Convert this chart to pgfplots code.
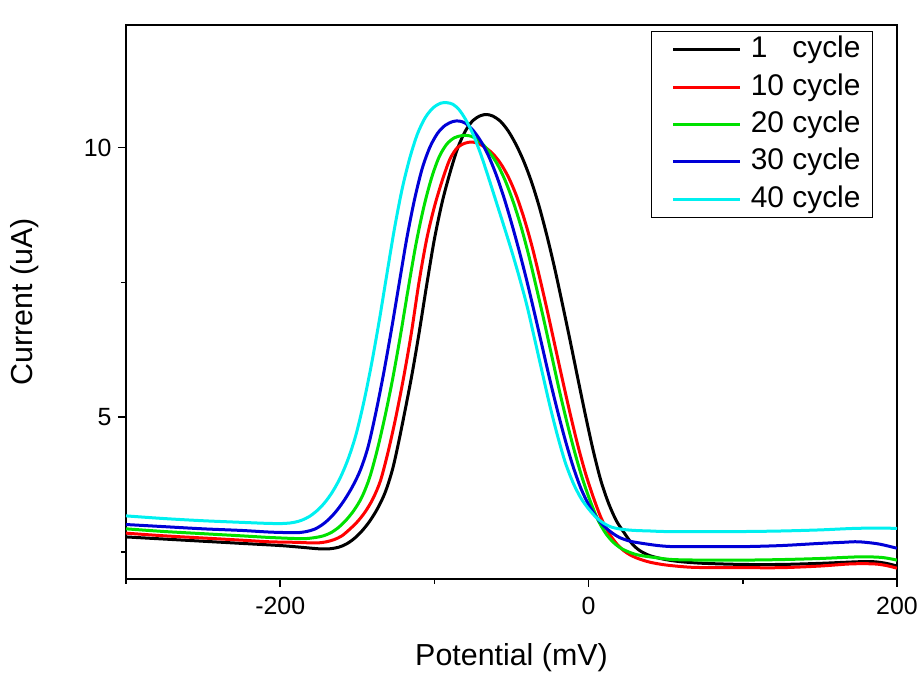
\documentclass[border=0pt]{standalone}
\usepackage{fontspec}
\setmainfont{Liberation Sans}
\usepackage{pgfplots}
\pgfplotsset{compat=1.18}

\definecolor{cRed}{RGB}{255,0,0}
\definecolor{cGreen}{RGB}{0,225,0}
\definecolor{cBlue}{RGB}{0,0,215}
\definecolor{cCyan}{RGB}{0,240,240}

\begin{document}
\begin{tikzpicture}
\begin{axis}[
  name=ax,
  scale only axis,
  width=771bp, height=554bp,
  xmin=-300, xmax=200,
  ymin=2, ymax=12.27,
  xtick={-200,0,200},
  minor xtick={-300,-100,100},
  ytick={5,10},
  minor ytick={2.5,7.5},
  tick pos=left,
  tick align=outside,
  major tick length=8bp,
  minor tick length=5bp,
  every tick/.style={line width=1.5bp, black},
  axis line style={line width=2.2bp},
  /pgf/number format/assume math mode=true,
  tick label style={font=\fontsize{25}{29}\selectfont},
  xticklabel style={yshift=-7bp},
  yticklabel style={xshift=-3bp},
  xlabel={Potential (mV)},
  ylabel={Current (uA)},
  label style={font=\fontsize{30.5}{34}\selectfont},
  xlabel style={at={(axis description cs:0.5,-0.1426)}, anchor=center},
  ylabel style={at={(axis description cs:-0.131,0.5)}, anchor=center},
  legend cell align=left,
  legend image code/.code={\path (0bp,0bp); \draw[#1] (9bp,0bp) -- (76bp,0bp);},
  legend style={
    at={(rel axis cs:1,1)}, anchor=north east,
    xshift=-24bp, yshift=-6.5bp,
    draw=black, line width=1bp,
    font=\fontsize{30}{34}\selectfont,
    row sep=7.3bp, column sep=8bp,
    inner xsep=11bp, inner ysep=3bp,
    nodes={inner sep=1bp, text height=22bp, text depth=6bp},
  },
  every axis plot/.append style={line width=3bp, smooth},
]
\addplot[black] coordinates {
(-300,2.78) (-275,2.74) (-250,2.70) (-225,2.66) (-200,2.62) (-187,2.59)
(-175,2.56) (-168,2.56) (-162,2.59) (-157,2.65) (-152,2.75) (-147,2.89)
(-142,3.07) (-137,3.30) (-132,3.60) (-127,4.05) (-122,4.70)
(-115,5.72) (-110,6.55) (-105,7.45) (-100,8.3) (-95,8.98) (-90,9.52)
(-85,9.98) (-80,10.3) (-75,10.5) (-70,10.59) (-66,10.61) (-62,10.58)
(-57,10.48) (-52,10.3) (-47,10.05) (-42,9.74) (-37,9.36) (-32,8.9)
(-27,8.36) (-22,7.76) (-17,7.1) (-12,6.42) (-7,5.72) (-2,5.03) (3,4.38)
(8,3.82) (13,3.4) (18,3.08) (23,2.86) (28,2.66) (33,2.53) (40,2.43)
(50,2.36) (60,2.32) (75,2.29) (100,2.27) (125,2.27) (150,2.29)
(175,2.32) (185,2.32) (193,2.29) (200,2.24)
};
\addlegendentry{1\phantom{0} cycle}
\addplot[cRed] coordinates {
(-300,2.85) (-275,2.80) (-250,2.76) (-225,2.72) (-207,2.69) (-190,2.68)
(-181,2.67) (-175,2.67) (-170,2.69) (-165,2.73) (-160,2.80) (-155,2.92)
(-150,3.06) (-145,3.24) (-140,3.48) (-135,3.82) (-130,4.36) (-125,5.0)
(-120,5.73) (-115,6.55) (-110,7.5) (-105,8.3) (-100,8.9) (-95,9.38)
(-90,9.78) (-85,10.0) (-80,10.08) (-76,10.10) (-72,10.08) (-67,10.0)
(-62,9.88) (-57,9.7) (-52,9.45) (-47,9.12) (-42,8.7) (-37,8.2) (-32,7.62)
(-27,7.0) (-22,6.35) (-17,5.7) (-12,5.07) (-7,4.48) (-2,3.96) (3,3.52)
(8,3.14) (13,2.86) (18,2.66) (23,2.52) (28,2.43) (33,2.37) (40,2.31)
(50,2.26) (65,2.22) (80,2.21) (100,2.21) (125,2.21) (150,2.24)
(170,2.28) (185,2.28) (193,2.25) (200,2.20)
};
\addlegendentry{10 cycle}
\addplot[cGreen] coordinates {
(-300,2.93) (-275,2.88) (-250,2.84) (-225,2.80) (-207,2.77) (-190,2.75)
(-183,2.75) (-177,2.77) (-172,2.80) (-167,2.86) (-162,2.96) (-157,3.10)
(-152,3.28) (-147,3.52) (-142,3.88) (-137,4.40) (-132,5.02) (-127,5.72)
(-122,6.52) (-117,7.38) (-112,8.2) (-107,8.88) (-102,9.42) (-97,9.82)
(-92,10.06) (-87,10.18) (-82,10.22) (-78,10.22) (-74,10.18) (-69,10.07)
(-64,9.9) (-59,9.68) (-54,9.38) (-49,9.0) (-44,8.55) (-39,8.02)
(-34,7.42) (-29,6.8) (-24,6.15) (-19,5.5) (-14,4.9) (-9,4.35) (-4,3.86)
(1,3.45) (6,3.1) (11,2.85) (16,2.68) (21,2.57) (27,2.49) (33,2.44)
(45,2.39) (55,2.36) (75,2.35) (100,2.35) (125,2.36) (150,2.38)
(175,2.41) (190,2.40) (200,2.35)
};
\addlegendentry{20 cycle}
\addplot[cBlue] coordinates {
(-300,3.01) (-275,2.97) (-250,2.93) (-225,2.90) (-207,2.87) (-195,2.86)
(-188,2.86) (-183,2.88) (-178,2.92) (-173,3.0) (-168,3.12) (-163,3.28)
(-158,3.48) (-153,3.72) (-148,4.02) (-143,4.45) (-138,5.08) (-133,5.8)
(-128,6.6) (-123,7.45) (-118,8.3) (-113,9.02) (-108,9.6) (-103,10.0)
(-98,10.26) (-93,10.41) (-88,10.48) (-84,10.49) (-80,10.45) (-75,10.32)
(-70,10.12) (-65,9.85) (-60,9.5) (-55,9.08) (-50,8.6) (-45,8.08)
(-40,7.52) (-35,6.92) (-30,6.3) (-25,5.68) (-20,5.1) (-15,4.56)
(-10,4.08) (-5,3.68) (0,3.38) (5,3.15) (10,2.98) (15,2.86) (20,2.77)
(27,2.7) (35,2.66) (45,2.62) (55,2.6) (75,2.6) (100,2.6) (125,2.62)
(150,2.66) (165,2.68) (175,2.69) (188,2.65) (200,2.57)
};
\addlegendentry{30 cycle}
\addplot[cCyan] coordinates {
(-300,3.17) (-275,3.12) (-250,3.08) (-225,3.05) (-207,3.03) (-197,3.03)
(-191,3.05) (-186,3.09) (-181,3.16) (-176,3.27) (-171,3.42) (-166,3.62)
(-161,3.88) (-156,4.22) (-151,4.66) (-146,5.25) (-141,5.95) (-136,6.75)
(-131,7.62) (-126,8.48) (-121,9.22) (-116,9.8) (-111,10.25) (-106,10.55)
(-101,10.73) (-96,10.82) (-92,10.83) (-88,10.8) (-84,10.7) (-80,10.53)
(-75,10.25) (-70,9.88) (-65,9.45) (-60,9.0) (-55,8.55) (-50,8.09)
(-45,7.6) (-40,7.07) (-35,6.45) (-30,5.82) (-25,5.2) (-20,4.64)
(-15,4.15) (-10,3.78) (-5,3.5) (0,3.3) (5,3.14) (10,3.03) (15,2.96)
(22,2.92) (30,2.9) (40,2.89) (50,2.88) (75,2.88) (100,2.88) (125,2.89)
(150,2.91) (175,2.94) (200,2.94)
};
\addlegendentry{40 cycle}
\end{axis}
\pgfresetboundingbox
\path[use as bounding box] ([xshift=-126bp,yshift=-102bp]ax.south west)
  rectangle ([xshift=26bp,yshift=25bp]ax.north east);
\end{tikzpicture}
\end{document}
